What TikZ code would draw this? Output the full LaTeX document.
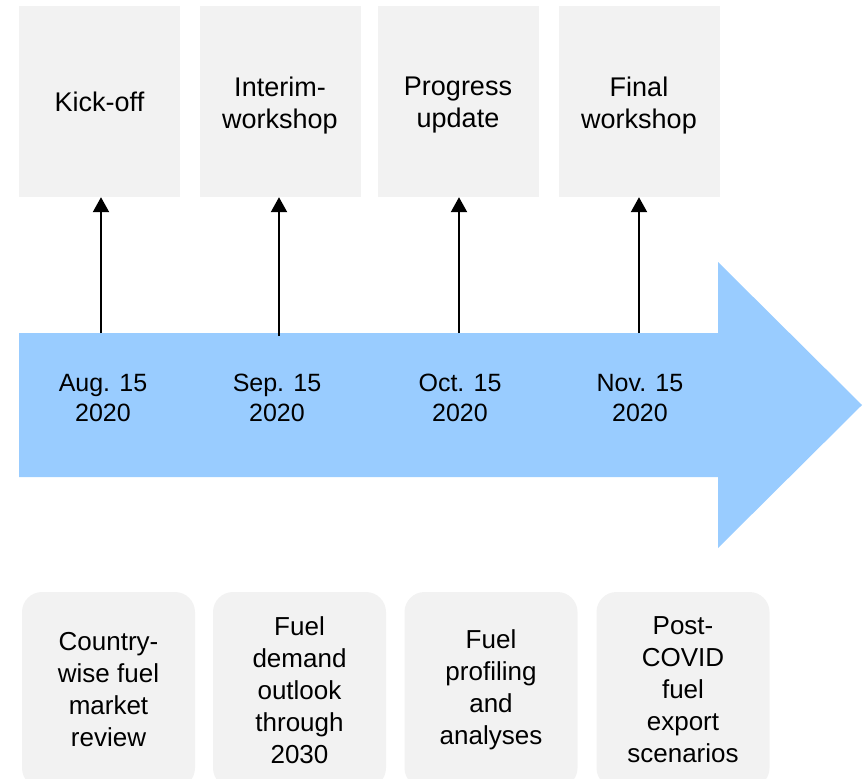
\documentclass[tikz,border=0pt]{standalone}
\usepackage{fontspec}
\setmainfont{Liberation Sans}
\usetikzlibrary{arrows.meta}
\definecolor{boxgray}{HTML}{F2F2F2}
\definecolor{bandblue}{HTML}{99CCFF}
\begin{document}
\begin{tikzpicture}[x=1pt,y=-1pt,
 topbox/.style={fill=boxgray, minimum width=161pt, minimum height=191pt, inner sep=0pt},
 toptext/.style={align=center, inner sep=0pt, font=\fontsize{27}{32}\selectfont},
 datelbl/.style={align=center, font=\fontsize{25}{30}\selectfont, inner sep=0pt},
 workbox/.style={fill=boxgray, rounded corners=20pt, minimum width=173pt, minimum height=196pt, inner sep=0pt, align=center, font=\fontsize{26}{32}\selectfont},
 milestone/.style={line width=2.2pt, -{Triangle[width=16pt,length=15pt]}}]
\useasboundingbox (0,0) rectangle (865,779);
\clip (0,0) rectangle (865,779);
% timeline band
\fill[bandblue] (19,333) -- (718,333) -- (718,262) -- (862,405) -- (718,548) -- (718,477) -- (19,477) -- cycle;
% top boxes
\node[topbox] (k1) at (99.5,101.5) {};
\node[topbox] (k2) at (280,101.5) {};
\node[topbox] (k3) at (458,101.5) {};
\node[topbox] (k4) at (639,101.5) {};
\node[toptext] (k1t) at (k1) {Kick-off};
\node[toptext, yshift=-4pt] (k2t) at (k2) {Interim-\\workshop};
\node[toptext, yshift=-4pt] (k3t) at (k3) {Progress\\update};
\node[toptext, yshift=-4pt] (k4t) at (k4) {Final\\workshop};
% dates
\node[datelbl] (d1) at (103,398) {Aug. 15\\2020};
\node[datelbl] (d2) at (277,398) {Sep. 15\\2020};
\node[datelbl] (d3) at (460,398) {Oct. 15\\2020};
\node[datelbl] (d4) at (640,398) {Nov. 15\\2020};
% arrow start points
\coordinate (a1) at (101,333);
\coordinate (a2) at (279,336);
\coordinate (a3) at (459,333);
\coordinate (a4) at (639,333);
\draw[milestone] (a1) -- (a1 |- k1.south);
\draw[milestone] (a2) -- (a2 |- k2.south);
\draw[milestone] (a3) -- (a3 |- k3.south);
\draw[milestone] (a4) -- (a4 |- k4.south);
% bottom boxes
\node[workbox] (w1) at (108.5,690) {Country-\\wise fuel\\market\\review};
\node[workbox] (w2) at (299.5,690) {Fuel\\demand\\outlook\\through\\2030};
\node[workbox] (w3) at (491,690) {Fuel\\profiling\\and\\analyses};
\node[workbox] (w4) at (683,690) {Post-\\COVID\\fuel\\export\\scenarios};
\end{tikzpicture}
\end{document}
